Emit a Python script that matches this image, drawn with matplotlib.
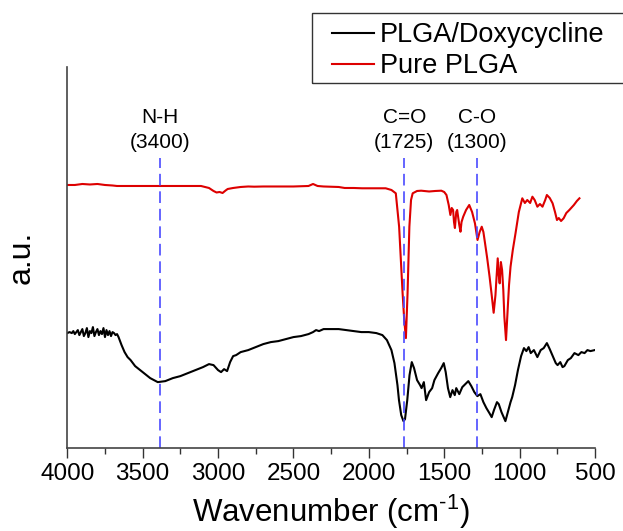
import matplotlib
matplotlib.use("Agg")
from matplotlib import pyplot as plt
from matplotlib.ticker import MultipleLocator
from matplotlib.patches import Rectangle

plt.rcParams['font.family'] = ['Liberation Sans', 'DejaVu Sans']
plt.rcParams['mathtext.fontset'] = 'custom'
plt.rcParams['mathtext.rm'] = 'Liberation Sans'
plt.rcParams['mathtext.it'] = 'Liberation Sans:italic'

# PLGA/Doxycycline spectrum (wavenumber in cm-1, intensity in a.u.)
doxy_wn = [4000, 3985, 3970, 3960, 3950, 3940, 3930, 3920, 3910, 3900, 3890, 3880, 3870, 3860,
           3850, 3840, 3830, 3820, 3810, 3800, 3790, 3780, 3770, 3760, 3750, 3740, 3730, 3720,
           3710, 3700, 3690, 3680, 3670, 3660, 3640, 3620, 3600, 3580, 3550, 3500, 3450, 3400,
           3350, 3300, 3250, 3200, 3150, 3100, 3060, 3030, 3000, 2980, 2960, 2940, 2920, 2900,
           2880, 2850, 2800, 2750, 2700, 2650, 2600, 2550, 2500, 2450, 2400, 2370, 2350, 2330,
           2300, 2200, 2100, 2050, 2000, 1950, 1910, 1880, 1850, 1830, 1810, 1800, 1785, 1770,
           1760, 1745, 1730, 1715, 1700, 1680, 1660, 1650, 1635, 1620, 1600, 1580, 1565, 1540,
           1520, 1503, 1490, 1475, 1460, 1445, 1430, 1420, 1400, 1380, 1360, 1340, 1320, 1300,
           1280, 1260, 1240, 1220, 1200, 1185, 1170, 1150, 1138, 1120, 1100, 1094, 1080, 1060,
           1049, 1030, 1011, 990, 971, 955, 940, 926, 905, 882, 860, 840, 819, 800, 780, 760,
           748, 730, 715, 703, 680, 660, 636, 610, 590, 569, 550, 530, 502]
doxy_int = [115, 116, 115, 117, 114, 116, 118, 113, 116, 119, 112, 115, 120, 111,
            117, 115, 121, 112, 116, 119, 113, 117, 114, 120, 111, 118, 113, 117,
            112, 116, 115, 113, 114, 111, 103, 96, 91, 88, 82, 76, 70, 66,
            67, 70, 72, 75, 78, 81, 84, 83, 78, 76, 79, 77, 86, 92,
            93, 96, 98, 101, 104, 106, 107, 109, 111, 112, 114, 116, 118, 117,
            119, 119, 117, 116, 116, 115, 113, 108, 98, 85, 63, 48, 33, 27,
            29, 48, 73, 86, 80, 68, 63, 60, 66, 48, 56, 60, 68, 75,
            80, 85, 76, 60, 51, 58, 53, 60, 54, 61, 64, 67, 62, 56,
            52, 54, 46, 40, 35, 31, 38, 46, 44, 36, 29, 27, 35, 46,
            51, 63, 78, 92, 100, 97, 101, 95, 98, 91, 98, 100, 105, 99, 92, 85,
            83, 86, 81, 82, 88, 90, 95, 93, 96, 95, 98, 97, 98]

# Pure PLGA spectrum
plga_wn = [4000, 3950, 3900, 3850, 3800, 3750, 3700, 3670, 3600, 3500, 3380, 3200, 3113, 3060,
           3030, 3010, 2990, 2970, 2950, 2936, 2900, 2850, 2800, 2760, 2700, 2600, 2500, 2400,
           2370, 2340, 2300, 2200, 2160, 2100, 2045, 1950, 1888, 1850, 1821, 1799, 1776, 1765,
           1754, 1743, 1731, 1720, 1709, 1680, 1653, 1600, 1560, 1519, 1500, 1485, 1470, 1459,
           1450, 1441, 1435, 1429, 1420, 1414, 1400, 1392, 1385, 1374, 1355, 1334, 1315, 1296,
           1279, 1265, 1251, 1240, 1229, 1215, 1199, 1185, 1172, 1160, 1154, 1145, 1138, 1132,
           1124, 1116, 1108, 1101, 1090, 1078, 1070, 1060, 1045, 1027, 1005, 982, 965, 949, 930,
           915, 900, 882, 865, 848, 830, 819, 800, 781, 765, 752, 740, 725, 708, 690, 670, 640,
           620, 603]
plga_int = [263, 263, 264, 263.5, 264, 263, 262.5, 262, 262, 262, 262, 262, 262, 260,
            257, 255.5, 256, 255, 257.5, 259, 260, 261, 261.5, 261.3, 261.5, 261.5, 261.5, 262,
            264, 262, 261.5, 261, 260, 260, 259.7, 259.7, 259.7, 258, 254.7, 221.3, 155, 128,
            110, 155, 221.3, 248, 254.7, 257, 257.3, 256.5, 257, 257.3, 256, 253, 243, 233,
            240, 238, 226, 220, 236, 238, 223, 216.3, 226, 231.3, 238, 243, 236, 224.7,
            208, 216, 221.3, 216, 204.7, 190, 171.3, 153, 135.3, 153, 168, 189.7, 173, 164.7,
            186, 178, 158, 131.3, 108, 141.3, 163, 181.3, 198, 214.7, 236, 249.7, 245, 248, 245,
            251.3, 248, 241.3, 244, 241.3, 248, 253, 250, 244.7, 236, 228, 230, 227, 229.7, 235, 238, 243,
            247, 249.7]

# marked bands
band_pos = [3385, 1765, 1285]
band_name = ["N-H", "C=O", "C-O"]
band_label = ["(3400)", "(1725)", "(1300)"]

fig = plt.figure(figsize=(6.23, 5.31), dpi=100)
ax = fig.add_axes([0.108, 0.156, 0.847, 0.718])

ax.plot(doxy_wn, doxy_int, color='black', lw=1.5, label='PLGA/Doxycycline')
ax.plot(plga_wn, plga_int, color='#dd0000', lw=1.5, label='Pure PLGA')

for x, name, lab in zip(band_pos, band_name, band_label):
    ax.plot([x, x], [0, 290], color='#4a4aff', lw=1.2, dashes=(7, 3.5))
    ax.text(x, 330, name, ha='center', va='center', fontsize=15)
    ax.text(x, 305, lab, ha='center', va='center', fontsize=15)

ax.set_xlim(4000, 500)
ax.set_ylim(0, 381)
ax.xaxis.set_major_locator(MultipleLocator(500))
ax.xaxis.set_minor_locator(MultipleLocator(250))
ax.tick_params(axis='x', which='major', length=7, width=1, labelsize=17.5, pad=4, color='#333333')
ax.tick_params(axis='x', which='minor', length=4, width=1, color='#333333')
ax.set_yticks([])

for side in ['top', 'right']:
    ax.spines[side].set_visible(False)
for side in ['left', 'bottom']:
    ax.spines[side].set_color('#444444')
    ax.spines[side].set_linewidth(1.2)

ax.set_xlabel(r'Wavenumber (cm$^{\text{-1}}$)', fontsize=22.5, labelpad=5)
ax.set_ylabel('a.u.', fontsize=23, labelpad=22)

# legend: entries without frame, box drawn as a separate rectangle
leg = ax.legend(loc='upper left', bbox_to_anchor=(332 / 623, 1 - 22 / 531),
                bbox_transform=fig.transFigure, fontsize=19.5, frameon=False,
                handlelength=1.55, handletextpad=0.22, borderpad=0, labelspacing=0.2,
                borderaxespad=0)
fig.patches.append(Rectangle((311.7 / 623, 1 - 83.3 / 531), 0.6, 70 / 531,
                             transform=fig.transFigure, fill=False,
                             edgecolor='#333333', lw=1.0))

fig.savefig('out.png', dpi=100)
